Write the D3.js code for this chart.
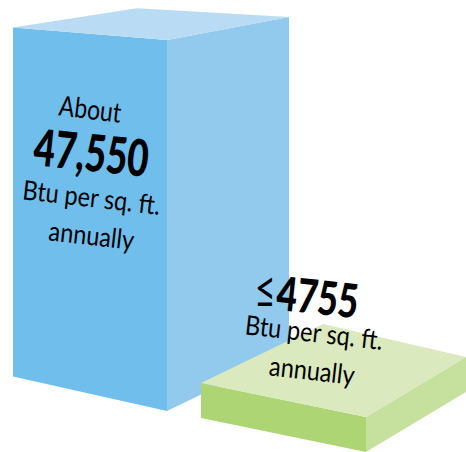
<!DOCTYPE html>
<html>
<head>
<meta charset="utf-8">
<script src="https://cdn.jsdelivr.net/npm/d3@7"></script>
<style>
html,body{margin:0;padding:0;background:#fff}
svg{display:block}
text{font-family:Lato,"Open Sans",sans-serif;fill:#000}
</style>
</head>
<body>
<svg id="chart" width="466" height="452"></svg>
<script>
// Energy use intensity in Btu per sq. ft. per year
const categories = ["current", "target"];
const values = [47550, 4755];
const prefixes = ["", "\u2264"];
const valueLabels = ["47,550", "4755"];
const leadLines = [["About"], []];
const unitLines = [["Btu per sq. ft.", "annually"], ["Btu per sq. ft.", "annually"]];
const faceColors = [
  {front: "#6FBEEC", side: "#92CAEE", top: "#B9DCF4"},
  {front: "#AED574", side: "#C6E09E", top: "#DAE9BE"}
];

// Height of a prism grows with its value
const heightScale = d3.scaleLinear().domain([0, 47550]).range([0, 349]);

// Ground footprint of each prism: left corner, the oblique edges, and a
// perspective factor applied to the vertical edge at each corner
const footprints = [
  {x: 13,  y: 376.5, front: [154, 34.5], side: [122, -59], back: [124, -59],
   persp: {L: 1, F: 1.063, R: 0.96, B: 0.886}},
  {x: 201, y: 418,   front: [165, 34],   side: [100, -60], back: [122, -59],
   persp: {L: 1, F: 1, R: 1, B: 1}}
];

// Text placement, rotation and horizontal squeeze for each label block
const textLayouts = [
  {
    lead: {x: 89, y: 119, size: 28, rot: 7, sx: 0.82},
    value: {x: 89.5, y: 171, size: 51, rot: 6, sx: 0.72},
    units: [
      {x: 90.5, y: 207, size: 27, rot: 6.5, sx: 0.87},
      {x: 90.5, y: 245, size: 27, rot: 6.5, sx: 0.87}
    ]
  },
  {
    value: {x: 316, y: 314, size: 47, rot: 6, sx: 0.75},
    prefix: {x: 265, y: 308, size: 52, rot: 0, sx: 0.7},
    units: [
      {x: 313, y: 342, size: 27, rot: 6.5, sx: 0.87},
      {x: 311, y: 380, size: 27, rot: 6.5, sx: 0.87}
    ]
  }
];

const svg = d3.select("#chart");
const polygonPath = pts => d3.line()(pts) + "Z";

// Corner points for one prism
function prismFaces(value, fp) {
  const h = heightScale(value);
  const L = [fp.x, fp.y];
  const F = [L[0] + fp.front[0], L[1] + fp.front[1]];
  const R = [F[0] + fp.side[0], F[1] + fp.side[1]];
  const B = [L[0] + fp.back[0], L[1] + fp.back[1]];
  const up = (p, k) => [p[0], p[1] - h * fp.persp[k]];
  return {
    front: [L, F, up(F, "F"), up(L, "L")],
    side: [F, R, up(R, "R"), up(F, "F")],
    top: [up(L, "L"), up(F, "F"), up(R, "R"), up(B, "B")]
  };
}

const prisms = svg.selectAll("g.prism")
  .data(categories.map((c, i) => ({c, i, faces: prismFaces(values[i], footprints[i])})))
  .join("g")
  .attr("class", "prism");

["front", "side", "top"].forEach(face => {
  prisms.append("path")
    .attr("d", d => polygonPath(d.faces[face]))
    .attr("fill", d => faceColors[d.i][face]);
});

// Place one line of text with its rotation and condensing
function label(str, l, weight) {
  svg.append("text")
    .attr("text-anchor", "middle")
    .attr("transform", `translate(${l.x},${l.y}) rotate(${l.rot}) scale(${l.sx},1)`)
    .attr("font-size", l.size)
    .attr("font-weight", weight)
    .text(str);
}

textLayouts.forEach((t, i) => {
  if (t.lead) label(leadLines[i][0], t.lead, 400);
  label(valueLabels[i], t.value, 900);
  if (t.prefix) label(prefixes[i], t.prefix, 400);
  t.units.forEach((u, j) => label(unitLines[i][j], u, 400));
});
</script>
</body>
</html>
